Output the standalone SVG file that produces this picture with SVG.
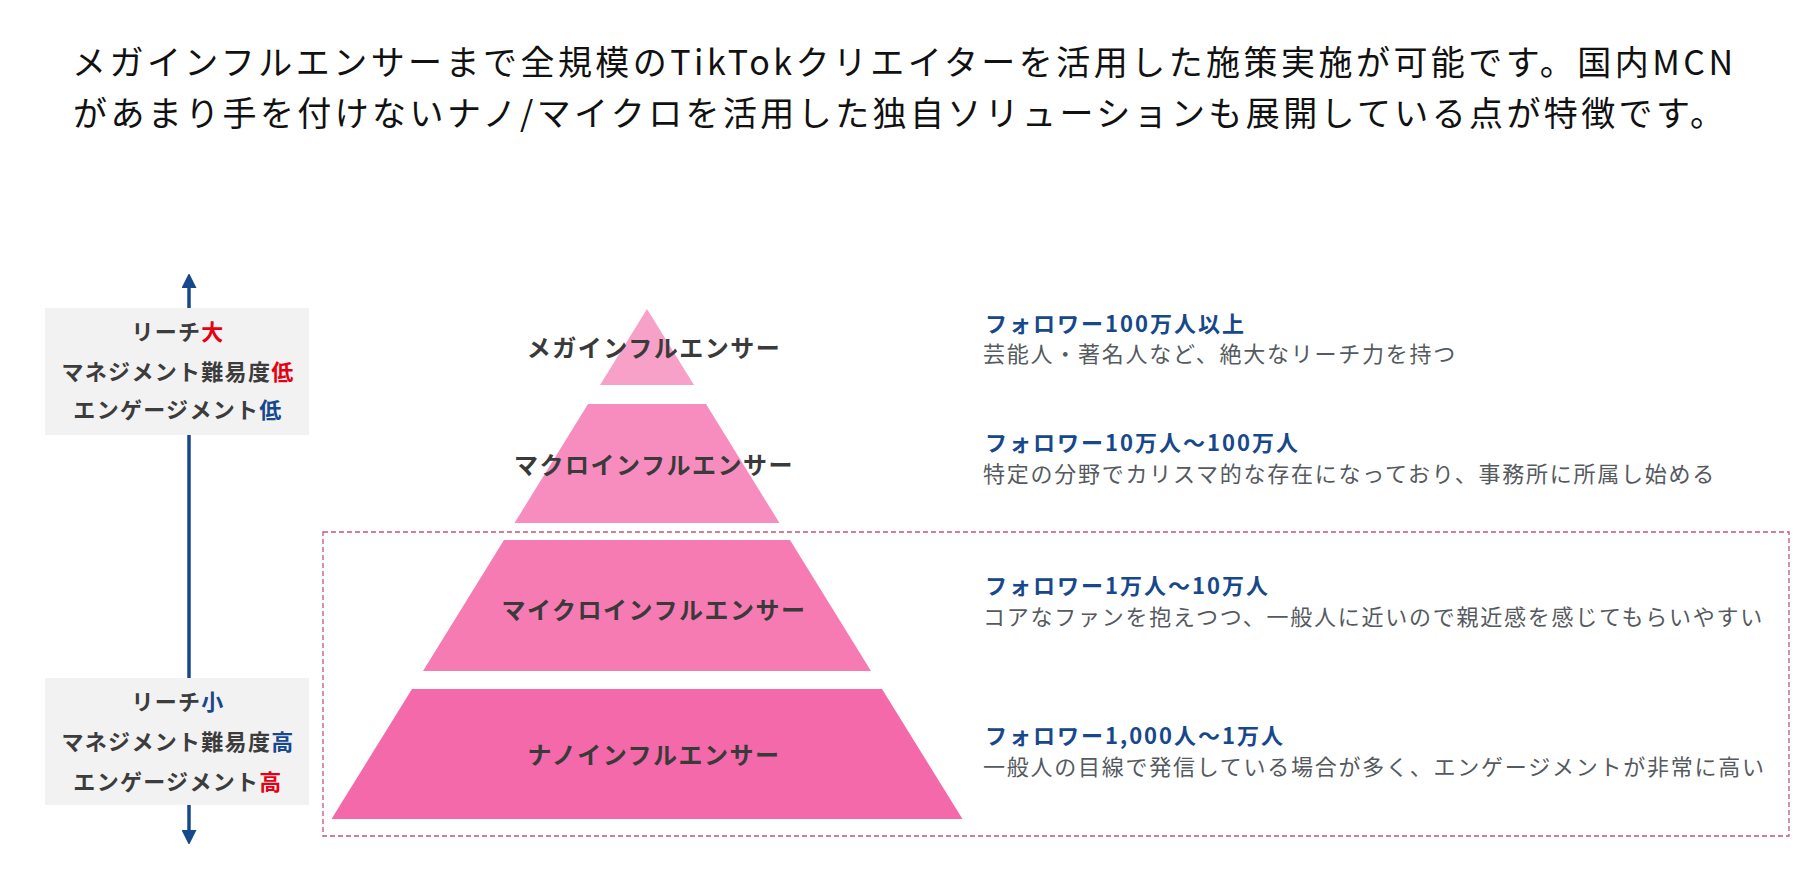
<svg xmlns="http://www.w3.org/2000/svg" width="1806" height="874" viewBox="0 0 1806 874">
  <style>
    .title { font-family: "Noto Sans CJK JP", "Noto Sans", sans-serif; font-size: 34px; fill: #111111; }
    .tier { font-family: "Noto Sans CJK JP", "Noto Sans", sans-serif; font-size: 24px; font-weight: 700; fill: #3a3a3a; letter-spacing: 1.5px; text-anchor: middle; }
    .head { font-family: "Noto Sans CJK JP", "Noto Sans", sans-serif; font-size: 22px; font-weight: 700; fill: #17488c; letter-spacing: 2px; }
    .desc { font-family: "Noto Sans CJK JP", "Noto Sans", sans-serif; font-size: 22px; fill: #555a60; letter-spacing: 1.75px; }
    .side { font-family: "Noto Sans CJK JP", "Noto Sans", sans-serif; font-size: 22px; font-weight: 700; fill: #3c3c3c; letter-spacing: 1.3px; text-anchor: middle; }
    .box { fill: #f2f2f2; }
    .red { fill: #e60012; }
    .blue { fill: #17488c; }
    .axis { stroke: #17488c; stroke-width: 3.5; fill: none; }
  </style>
  <defs>
    <marker id="arrowhead" viewBox="0 0 14 15" refX="0" refY="7.5" markerWidth="14" markerHeight="15" markerUnits="userSpaceOnUse" orient="auto-start-reverse">
      <path d="M0,0 L15,7.5 L0,15 Z" fill="#17488c"/>
    </marker>
  </defs>

  <rect width="1806" height="874" fill="#ffffff"/>

  <g id="title">
    <text class="title" x="72" y="75" textLength="1661" lengthAdjust="spacing">メガインフルエンサーまで全規模のTikTokクリエイターを活用した施策実施が可能です。国内MCN</text>
    <text class="title" x="73" y="126" textLength="1651" lengthAdjust="spacing">があまり手を付けないナノ/マイクロを活用した独自ソリューションも展開している点が特徴です。</text>
  </g>

  <g id="connectors">
    <line class="axis" x1="189" y1="288" x2="189" y2="830" marker-start="url(#arrowhead)" marker-end="url(#arrowhead)"/>
  </g>

  <g id="focus-frame">
    <rect x="323" y="532" width="1466" height="304" fill="none" stroke="#c4557f" stroke-width="1.3" stroke-dasharray="5 3"/>
  </g>

  <g id="side-top">
    <rect class="box" x="45" y="308" width="264" height="127"/>
    <text class="side" x="178" y="340">リーチ<tspan class="red">大</tspan></text>
    <text class="side" x="178" y="380">マネジメント難易度<tspan class="red">低</tspan></text>
    <text class="side" x="178" y="418">エンゲージメント<tspan class="blue">低</tspan></text>
  </g>

  <g id="side-bottom">
    <rect class="box" x="45" y="678" width="264" height="127"/>
    <text class="side" x="178" y="710">リーチ<tspan class="blue">小</tspan></text>
    <text class="side" x="178" y="750">マネジメント難易度<tspan class="blue">高</tspan></text>
    <text class="side" x="178" y="790">エンゲージメント<tspan class="red">高</tspan></text>
  </g>

  <g id="tier-mega">
    <polygon points="647,309 694,385 600,385" fill="#f7a1c9"/>
    <text class="tier" x="654" y="357">メガインフルエンサー</text>
    <text class="head" x="985" y="332">フォロワー100万人以上</text>
    <text class="desc" x="983" y="362">芸能人・著名人など、絶大なリーチ力を持つ</text>
  </g>

  <g id="tier-macro">
    <polygon points="588,404 706,404 779.5,523 514.5,523" fill="#f78dbf"/>
    <text class="tier" x="654" y="474">マクロインフルエンサー</text>
    <text class="head" x="985" y="451">フォロワー10万人〜100万人</text>
    <text class="desc" x="983" y="482">特定の分野でカリスマ的な存在になっており、事務所に所属し始める</text>
  </g>

  <g id="tier-micro">
    <polygon points="504,540 790,540 871,671 423,671" fill="#f77bb3"/>
    <text class="tier" x="654" y="619">マイクロインフルエンサー</text>
    <text class="head" x="985" y="594">フォロワー1万人〜10万人</text>
    <text class="desc" x="983" y="625">コアなファンを抱えつつ、一般人に近いので親近感を感じてもらいやすい</text>
  </g>

  <g id="tier-nano">
    <polygon points="412,689 882,689 962.5,819 331.5,819" fill="#f469a9"/>
    <text class="tier" x="654" y="764">ナノインフルエンサー</text>
    <text class="head" x="985" y="744">フォロワー1,000人〜1万人</text>
    <text class="desc" x="983" y="775">一般人の目線で発信している場合が多く、エンゲージメントが非常に高い</text>
  </g>
</svg>
